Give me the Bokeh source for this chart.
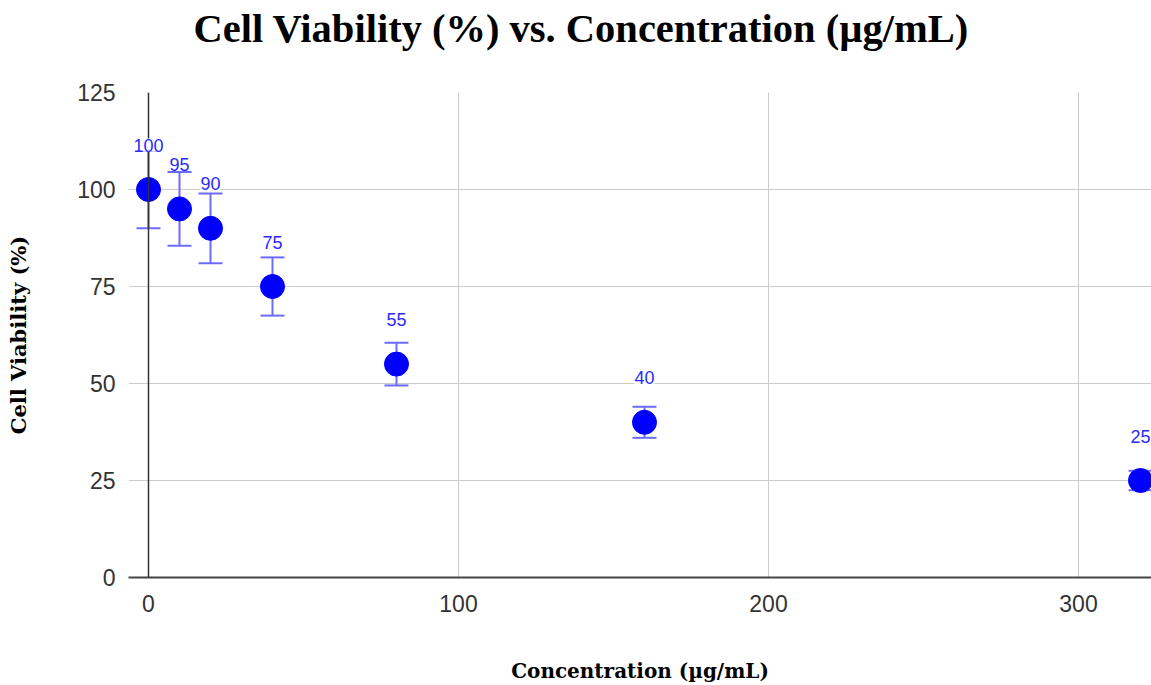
from bokeh.plotting import figure
from bokeh.models import ColumnDataSource, Whisker, TeeHead, LabelSet, Span, FixedTicker, Range1d
from bokeh.core.properties import value
from bokeh.embed import file_html
from bokeh.resources import INLINE

# Data
concentration = [0, 10, 20, 40, 80, 160, 320]
viability = [100, 95, 90, 75, 55, 40, 25]
error = [10, 9.5, 9, 7.5, 5.5, 4, 2.5]
point_labels = ["100", "95", "90", "75", "55", "40", "25"]
x_ticks = [0, 100, 200, 300]
y_ticks = [0, 25, 50, 75, 100, 125]

upper = [v + e for v, e in zip(viability, error)]
lower = [v - e for v, e in zip(viability, error)]
src = ColumnDataSource(dict(x=concentration, y=viability, upper=upper, lower=lower, lab=point_labels))

p = figure(width=1151, height=685, output_backend="svg", toolbar_location=None,
           x_range=Range1d(-6.45, 323.55), y_range=Range1d(0, 125),
           min_border_left=128, min_border_right=0, min_border_top=92, min_border_bottom=105)

p.title.text = "Cell Viability (%) vs. Concentration (\u00b5g/mL)\n"
p.title.text_font = "Liberation Serif"
p.title.text_font_style = "bold"
p.title.text_font_size = "40.5px"
p.title.text_line_height = 0.85
p.title.text_color = "#000000"
p.title.align = "left"
p.title.offset = 65
p.title.standoff = 7

p.outline_line_color = None
p.background_fill_color = "white"
p.border_fill_color = "white"

p.xaxis.ticker = FixedTicker(ticks=x_ticks)
p.yaxis.ticker = FixedTicker(ticks=y_ticks)
p.grid.grid_line_color = "#cccccc"
p.grid.grid_line_width = 1

for ax in (p.xaxis[0], p.yaxis[0]):
    ax.major_tick_line_color = None
    ax.minor_tick_line_color = None
    ax.major_label_text_font = "Liberation Sans"
    ax.major_label_text_font_size = "23px"
    ax.major_label_text_color = "#333333"
    ax.axis_label_text_font = "DejaVu Serif"
    ax.axis_label_text_font_style = "bold"
    ax.axis_label_text_color = "#000000"

p.xaxis.axis_label_text_font_size = "20px"
p.yaxis.axis_label_text_font_size = "21px"
p.xaxis.axis_label = "Concentration (\u00b5g/mL)"
p.yaxis.axis_label = "Cell Viability (%)"
p.xaxis.axis_line_color = "#444444"
p.xaxis.axis_line_width = 2
p.yaxis.axis_line_color = None
p.xaxis.major_label_standoff = 11
p.yaxis.major_label_standoff = 7
p.xaxis.axis_label_standoff = 44
p.yaxis.axis_label_standoff = 43

p.add_layout(Span(location=0, dimension="height", line_color="#333333", line_width=1.5))

p.add_layout(Whisker(source=src, base="x", upper="upper", lower="lower",
                     line_color="#6b6bff", line_width=2,
                     upper_head=TeeHead(size=24, line_color="#6b6bff", line_width=2),
                     lower_head=TeeHead(size=24, line_color="#6b6bff", line_width=2)))

p.scatter("x", "y", source=src, size=24, color="#0000ff")

p.add_layout(LabelSet(x="x", y="y", text="lab", source=src, y_offset=38,
                      text_align="center", text_baseline="bottom",
                      text_font=value("Liberation Sans"), text_font_size="18px", text_color="#2a2aff",
                      background_fill_color="white"))

open("out.html", "w").write(file_html(p, INLINE))
